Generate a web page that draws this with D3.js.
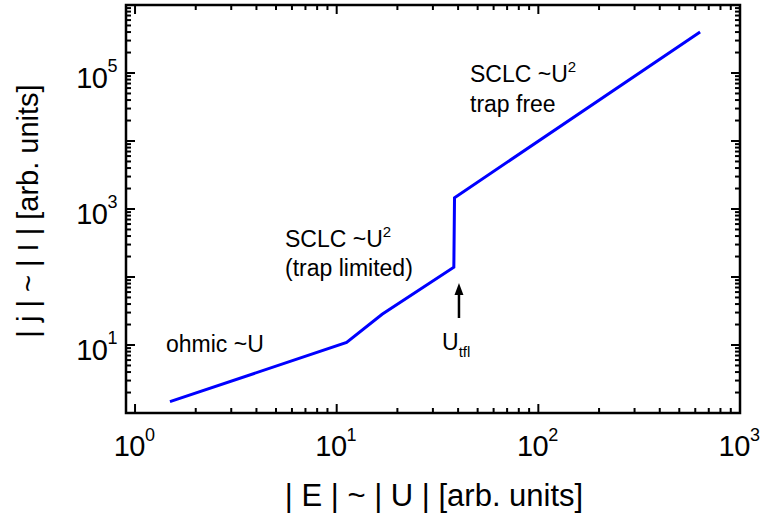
<!DOCTYPE html>
<html>
<head>
<meta charset="utf-8">
<script src="https://cdn.jsdelivr.net/npm/d3@7"></script>
<style>
  html, body { margin: 0; padding: 0; background: #fff; }
  svg { display: block; font-family: "Liberation Sans", Arial, sans-serif; }
</style>
</head>
<body>
<svg id="chart" width="763" height="518"></svg>
<script>
// Piecewise current–voltage characteristic (log–log)
const voltage = [1.49, 11.2, 16.8, 38.1, 38.4, 634];
const current = [1.47, 10.9, 28.3, 139, 1466, 4.0e5];

// Axis decades and labels
const xDecades = [1, 10, 100, 1000];
const xLabelExps = ["0", "1", "2", "3"];
const yDecades = [10, 1000, 100000];
const yLabelExps = ["1", "3", "5"];

// Trap-filled-limit voltage marked by the arrow
const uTfl = 40.4;

const svg = d3.select("#chart");
const margin = { left: 126, top: 5, right: 23, bottom: 105 };
const W = 763 - margin.left - margin.right;
const H = 518 - margin.top - margin.bottom;

const x = d3.scaleLog().domain([0.902, 1000]).range([0, W]);
const y = d3.scaleLog().domain([1, 1e6]).range([H, 0]);

const g = svg.append("g").attr("transform", `translate(${margin.left},${margin.top})`);

// minor + major ticks on all four sides, pointing inward
function tickValues(lo, hi) {
  const out = [];
  for (let e = Math.floor(Math.log10(lo)); e <= Math.ceil(Math.log10(hi)); e++) {
    for (let m = 1; m <= 9; m++) {
      const v = m * Math.pow(10, e);
      if (v >= lo * 0.999 && v <= hi * 1.001) out.push({ v, major: m === 1 });
    }
  }
  return out;
}
const xt = tickValues(x.domain()[0], x.domain()[1]);
const yt = tickValues(y.domain()[0], y.domain()[1]);
const MAJ = 9, MIN = 5;

const ticks = g.append("g").attr("stroke", "#000").attr("stroke-width", 2);
xt.forEach(t => {
  const len = t.major ? MAJ : MIN;
  ticks.append("line").attr("x1", x(t.v)).attr("x2", x(t.v)).attr("y1", H).attr("y2", H - len);
  ticks.append("line").attr("x1", x(t.v)).attr("x2", x(t.v)).attr("y1", 0).attr("y2", len);
});
yt.forEach(t => {
  const len = t.major ? MAJ : MIN;
  ticks.append("line").attr("y1", y(t.v)).attr("y2", y(t.v)).attr("x1", 0).attr("x2", len);
  ticks.append("line").attr("y1", y(t.v)).attr("y2", y(t.v)).attr("x1", W).attr("x2", W - len);
});

// frame
g.append("rect").attr("x", 0).attr("y", 0).attr("width", W).attr("height", H)
  .attr("fill", "none").attr("stroke", "#000").attr("stroke-width", 2.5);

// tick labels
xDecades.forEach((v, i) => {
  const t = g.append("text").attr("x", x(v) - 1).attr("y", H + 43)
    .attr("text-anchor", "middle").attr("font-size", 29)
    .attr("letter-spacing", -0.5).attr("fill", "#000");
  t.append("tspan").text("10");
  t.append("tspan").attr("dy", -15).attr("font-size", 18).text(xLabelExps[i]);
});
yDecades.forEach((v, i) => {
  const t = g.append("text").attr("x", -9).attr("y", y(v) + 15)
    .attr("text-anchor", "end").attr("font-size", 29)
    .attr("letter-spacing", -0.5).attr("fill", "#000");
  t.append("tspan").text("10");
  t.append("tspan").attr("dy", -16).attr("font-size", 18).text(yLabelExps[i]);
});

// curve
const pts = voltage.map((v, i) => [v, current[i]]);
g.append("path").datum(pts)
  .attr("d", d3.line().x(d => x(d[0])).y(d => y(d[1])))
  .attr("fill", "none").attr("stroke", "#0000ff").attr("stroke-width", 3)
  .attr("stroke-linejoin", "miter");

// annotations (absolute page coordinates)
const ann = svg.append("g").attr("font-size", 23).attr("fill", "#000");
function sup(sel, base, s) {
  sel.append("tspan").text(base);
  sel.append("tspan").attr("dy", -10).attr("font-size", 15).text(s);
}
sup(ann.append("text").attr("x", 470).attr("y", 82), "SCLC ~U", "2");
ann.append("text").attr("x", 470).attr("y", 112).text("trap free");
sup(ann.append("text").attr("x", 285).attr("y", 247), "SCLC ~U", "2");
ann.append("text").attr("x", 285).attr("y", 276).text("(trap limited)");
ann.append("text").attr("x", 166).attr("y", 352).text("ohmic ~U");
const ut = ann.append("text").attr("x", 442).attr("y", 350);
ut.append("tspan").text("U");
ut.append("tspan").attr("dy", 7).attr("font-size", 15).text("tfl");

// arrow at U_tfl
const ax = margin.left + x(uTfl);
svg.append("line").attr("x1", ax).attr("x2", ax).attr("y1", 318).attr("y2", 292)
  .attr("stroke", "#000").attr("stroke-width", 2.5);
svg.append("path")
  .attr("d", `M${ax},283 L${ax - 4.5},295 L${ax + 4.5},295 Z`).attr("fill", "#000");

// axis titles
svg.append("text").attr("x", 434).attr("y", 506).attr("text-anchor", "middle")
  .attr("font-size", 31).attr("fill", "#000").text("| E | ~ | U | [arb. units]");
svg.append("text").attr("transform", "translate(38,211) rotate(-90)")
  .attr("text-anchor", "middle").attr("font-size", 29).attr("fill", "#000")
  .text("| j | ~ | I | [arb. units]");
</script>
</body>
</html>
